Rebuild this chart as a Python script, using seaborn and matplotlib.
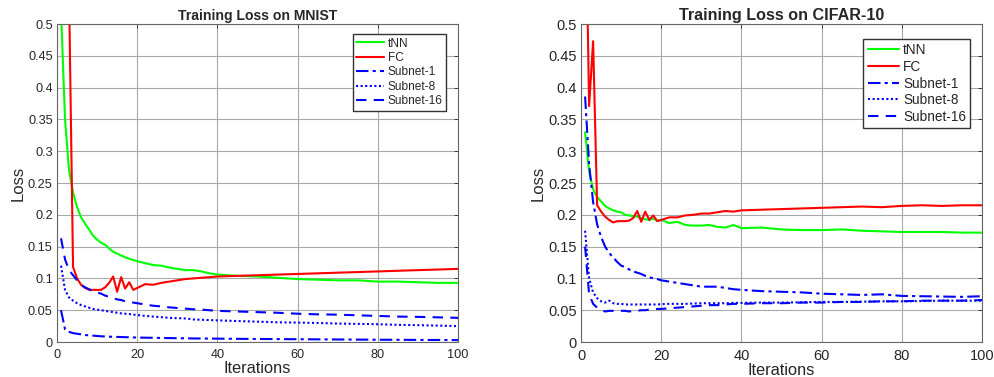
import matplotlib
matplotlib.use("Agg")
import matplotlib.pyplot as plt
import seaborn as sns

iters = list(range(1, 21)) + [22, 24, 26, 28, 30, 32, 34, 36, 38, 40,
                              45, 50, 55, 60, 65, 70, 75, 80, 85, 90, 95, 100]

# ---- MNIST ----
mnist_tnn = [0.52, 0.35, 0.27, 0.235, 0.212, 0.196, 0.186, 0.177, 0.167, 0.161,
             0.156, 0.153, 0.147, 0.142, 0.139, 0.136, 0.133, 0.131, 0.129, 0.127,
             0.124, 0.121, 0.12, 0.117, 0.115, 0.113, 0.113, 0.111, 0.108, 0.106,
             0.104, 0.103, 0.101, 0.099, 0.098, 0.097, 0.097, 0.095, 0.095, 0.094, 0.093, 0.093]
mnist_fc = [2.0, 1.3, 0.55, 0.118, 0.1, 0.09, 0.085, 0.082, 0.082, 0.082,
            0.082, 0.086, 0.093, 0.103, 0.079, 0.102, 0.084, 0.094, 0.082, 0.085,
            0.091, 0.09, 0.093, 0.095, 0.097, 0.099, 0.1, 0.101, 0.102, 0.103,
            0.104, 0.105, 0.106, 0.107, 0.108, 0.109, 0.11, 0.111, 0.112, 0.113, 0.114, 0.115]
mnist_sub1 = [0.05, 0.02, 0.016, 0.014, 0.013, 0.012, 0.011, 0.0105, 0.01, 0.0095,
              0.009, 0.0087, 0.0084, 0.0082, 0.008, 0.0078, 0.0076, 0.0074, 0.0072, 0.007,
              0.0068, 0.0066, 0.0064, 0.0062, 0.006, 0.0058, 0.0056, 0.0055, 0.0054, 0.0053,
              0.005, 0.0048, 0.0046, 0.0044, 0.0042, 0.004, 0.0038, 0.0036, 0.0035, 0.0033, 0.0032, 0.003]
mnist_sub8 = [0.12, 0.082, 0.07, 0.065, 0.061, 0.058, 0.056, 0.054, 0.052, 0.051,
              0.05, 0.049, 0.048, 0.047, 0.046, 0.045, 0.0445, 0.044, 0.043, 0.0425,
              0.041, 0.04, 0.039, 0.038, 0.0375, 0.037, 0.0355, 0.035, 0.0345, 0.034,
              0.033, 0.032, 0.031, 0.0305, 0.03, 0.029, 0.0285, 0.028, 0.027, 0.0265, 0.0258, 0.025]
mnist_sub16 = [0.163, 0.13, 0.113, 0.105, 0.097, 0.09, 0.086, 0.083, 0.08, 0.078,
               0.076, 0.073, 0.071, 0.069, 0.067, 0.066, 0.064, 0.063, 0.062, 0.061,
               0.059, 0.057, 0.056, 0.0545, 0.0535, 0.0525, 0.0515, 0.051, 0.05, 0.049,
               0.048, 0.047, 0.046, 0.0445, 0.0435, 0.043, 0.042, 0.041, 0.04, 0.0395, 0.0388, 0.038]

# ---- CIFAR-10 ----
cifar_tnn = [0.33, 0.268, 0.24, 0.228, 0.221, 0.214, 0.21, 0.207, 0.205, 0.204,
             0.2, 0.199, 0.198, 0.197, 0.195, 0.193, 0.192, 0.194, 0.191, 0.192,
             0.187, 0.189, 0.184, 0.183, 0.183, 0.184, 0.181, 0.18, 0.184, 0.179,
             0.18, 0.177, 0.176, 0.176, 0.177, 0.175, 0.174, 0.173, 0.173, 0.173, 0.172, 0.172]
cifar_fc = [0.75, 0.371, 0.473, 0.215, 0.205, 0.197, 0.192, 0.188, 0.19, 0.19,
            0.19, 0.191, 0.195, 0.206, 0.189, 0.205, 0.192, 0.199, 0.19, 0.192,
            0.196, 0.196, 0.199, 0.2, 0.202, 0.202, 0.204, 0.206, 0.205, 0.207,
            0.208, 0.209, 0.21, 0.211, 0.212, 0.213, 0.212, 0.214, 0.215, 0.214, 0.215, 0.215]
cifar_sub1 = [0.386, 0.28, 0.22, 0.185, 0.165, 0.15, 0.14, 0.133, 0.126, 0.12,
              0.118, 0.114, 0.111, 0.109, 0.107, 0.104, 0.102, 0.1, 0.099, 0.097,
              0.095, 0.093, 0.091, 0.089, 0.087, 0.087, 0.087, 0.085, 0.083, 0.082,
              0.08, 0.079, 0.078, 0.076, 0.075, 0.074, 0.075, 0.0725, 0.072, 0.0715, 0.071, 0.072]
cifar_sub8 = [0.175, 0.1, 0.078, 0.069, 0.064, 0.062, 0.065, 0.061, 0.06, 0.06,
              0.059, 0.059, 0.059, 0.059, 0.059, 0.059, 0.059, 0.059, 0.059, 0.0595,
              0.06, 0.06, 0.06, 0.0605, 0.061, 0.061, 0.061, 0.061, 0.0615, 0.0615,
              0.062, 0.062, 0.0625, 0.063, 0.063, 0.0635, 0.064, 0.064, 0.0645, 0.065, 0.065, 0.065]
cifar_sub16 = [0.15, 0.075, 0.06, 0.054, 0.05, 0.048, 0.049, 0.049, 0.048, 0.049,
               0.049, 0.048, 0.049, 0.049, 0.05, 0.05, 0.051, 0.051, 0.052, 0.052,
               0.053, 0.054, 0.055, 0.056, 0.057, 0.058, 0.058, 0.059, 0.06, 0.06,
               0.061, 0.061, 0.062, 0.062, 0.063, 0.063, 0.064, 0.064, 0.065, 0.065, 0.065, 0.066]

labels = ["tNN", "FC", "Subnet-1", "Subnet-8", "Subnet-16"]
colors = ["#00ff00", "#ff0000", "#0000ff", "#0000ff", "#0000ff"]
styles = ["-", "-", (0, (6, 2, 1.5, 2)), (0, (1, 1.2)), (0, (5, 3.5))]

sns.set_theme(style="whitegrid")
plt.rcParams["font.family"] = ["Liberation Sans", "DejaVu Sans"]

fig = plt.figure(figsize=(9.95, 3.77), dpi=100)
ax1 = fig.add_axes([0.0573, 0.0928, 0.403, 0.8435])
ax2 = fig.add_axes([0.584, 0.0928, 0.403, 0.8435])

panels = [
    (ax1, "Training Loss on MNIST", [mnist_tnn, mnist_fc, mnist_sub1, mnist_sub8, mnist_sub16],
     9.2, 10.1, 8.6, (0.4482, 0.9098)),
    (ax2, "Training Loss on CIFAR-10", [cifar_tnn, cifar_fc, cifar_sub1, cifar_sub8, cifar_sub16],
     10.5, 11.6, 9.8, (0.9749, 0.8966)),
]

for ax, title, series, tick_fs, title_fs, leg_fs, anchor in panels:
    for vals, lab, col, ls in zip(series, labels, colors, styles):
        sns.lineplot(x=iters, y=vals, ax=ax, color=col, linestyle=ls,
                     linewidth=1.5, label=lab, errorbar=None, sort=False)

    ax.set_xlim(0, 100)
    ax.set_ylim(0, 0.5)
    ax.set_xticks([0, 20, 40, 60, 80, 100])
    yt = [0, 0.05, 0.1, 0.15, 0.2, 0.25, 0.3, 0.35, 0.4, 0.45, 0.5]
    ax.set_yticks(yt)
    ax.set_yticklabels([f"{v:g}" for v in yt])
    ax.grid(True, color="#a8a8a8", linewidth=0.8)
    for sp in ax.spines.values():
        sp.set_visible(True)
        sp.set_color("#666666")
        sp.set_linewidth(0.8)
    ax.tick_params(direction="in", length=3, width=0.6, colors="#262626",
                   top=True, right=True, labelsize=tick_fs, pad=3)
    ax.tick_params(axis="x", pad=5)
    ax.set_xlabel("Iterations", fontsize=11.8, color="#262626", labelpad=0)
    ax.set_ylabel("Loss", fontsize=12, color="#262626", labelpad=2)
    ax.set_title(title, fontsize=title_fs, fontweight="bold", pad=3)

    ax.legend(loc="upper right", bbox_to_anchor=anchor, bbox_transform=fig.transFigure,
              fontsize=leg_fs, frameon=True, fancybox=False, framealpha=1,
              edgecolor="#333333", labelspacing=0.2, handlelength=2.3,
              handletextpad=0.3, borderpad=0.3, borderaxespad=0)

fig.savefig("out.png", dpi=100)
